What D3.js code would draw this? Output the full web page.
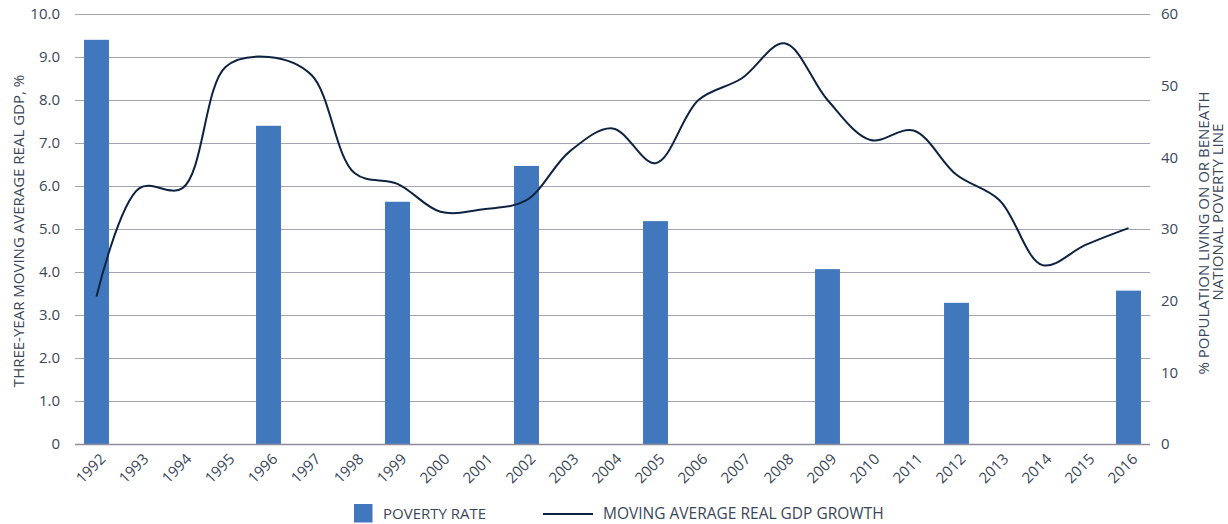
<!DOCTYPE html>
<html>
<head>
<meta charset="utf-8">
<script src="https://cdn.jsdelivr.net/npm/d3@7"></script>
<style>
  body { margin: 0; background: #fff; }
  text { font-family: "Open Sans", sans-serif; fill: #3b475a; }
</style>
</head>
<body>
<script>
// years along the bottom
const years = d3.range(1992, 2017).map(String);
// poverty rate, % of population (right axis) - only survey years
const povertyYears = ["1992","1996","1999","2002","2005","2009","2012","2016"];
const povertyRate  = [56.4, 44.4, 33.8, 38.8, 31.1, 24.4, 19.7, 21.4];
// three-year moving average real GDP growth, % (left axis)
const gdpGrowth = [3.43, 5.95, 5.95, 8.77, 9.0, 8.58, 6.3, 6.05, 5.4, 5.46, 5.67, 6.8, 7.34,
                   6.53, 8.0, 8.5, 9.32, 8.0, 7.07, 7.29, 6.26, 5.67, 4.16, 4.63, 5.02];
const leftTicks  = [0, 1, 2, 3, 4, 5, 6, 7, 8, 9, 10];
const rightTicks = [0, 10, 20, 30, 40, 50, 60];

const W = 1228, H = 524;
const svg = d3.select("body").append("svg")
  .attr("width", W).attr("height", H);

const x = d3.scaleBand().domain(years).range([75, 1150]).paddingInner(0.42).paddingOuter(0.21);
const yL = d3.scaleLinear().domain([0, 10]).range([444, 14]);
const yR = d3.scaleLinear().domain([0, 60]).range([444, 14]);

// gridlines (left scale)
svg.append("g")
  .selectAll("line")
  .data(leftTicks.filter(d => d > 0))
  .enter().append("line")
  .attr("x1", 75).attr("x2", 1150)
  .attr("y1", d => Math.round(yL(d)) + 0.5).attr("y2", d => Math.round(yL(d)) + 0.5)
  .attr("stroke", "#a2a2b0").attr("stroke-width", 1.2);

// bars
svg.append("g")
  .selectAll("rect")
  .data(povertyYears.map((y, i) => ({ year: y, v: povertyRate[i] })))
  .enter().append("rect")
  .attr("x", d => x(d.year))
  .attr("width", x.bandwidth())
  .attr("y", d => yR(d.v))
  .attr("height", d => yR(0) - yR(d.v))
  .attr("fill", "#4177bd");

// baseline
svg.append("line")
  .attr("x1", 75).attr("x2", 1150).attr("y1", 444.5).attr("y2", 444.5)
  .attr("stroke", "#8d8d9c").attr("stroke-width", 1.3);

// smoothed gdp line
const line = d3.line()
  .x((d, i) => x(years[i]) + x.bandwidth() / 2)
  .y(d => yL(d))
  .curve(d3.curveCatmullRom.alpha(0.5));

svg.append("path")
  .datum(gdpGrowth)
  .attr("fill", "none")
  .attr("stroke", "#0e2341")
  .attr("stroke-width", 2)
  .attr("stroke-linejoin", "round")
  .attr("d", line);

// left axis labels
const leftAxis = svg.append("g")
  .attr("transform", "translate(60,0)")
  .call(d3.axisLeft(yL).tickValues(leftTicks).tickSize(0).tickPadding(0)
    .tickFormat(d => d === 0 ? "0" : d3.format(".1f")(d)));
leftAxis.select(".domain").remove();
leftAxis.selectAll("text").style("font-size", "15px").attr("font-family", null).attr("fill", "#3b475a");

// right axis labels
const rightAxis = svg.append("g")
  .attr("transform", "translate(1161,0)")
  .call(d3.axisRight(yR).tickValues(rightTicks).tickSize(0).tickPadding(0));
rightAxis.select(".domain").remove();
rightAxis.selectAll("text").style("font-size", "15px").attr("font-family", null).attr("fill", "#3b475a");

// bottom axis labels
const bottomAxis = svg.append("g")
  .attr("transform", "translate(0,444)")
  .call(d3.axisBottom(x).tickSize(0).tickPadding(0));
bottomAxis.select(".domain").remove();
bottomAxis.selectAll("text")
  .style("font-size", "15px").attr("font-family", null).attr("fill", "#3b475a")
  .attr("text-anchor", "end")
  .attr("dy", null).attr("y", 0)
  .attr("transform", "translate(10,16) rotate(-45)");

// axis titles
svg.append("text")
  .attr("transform", "translate(24,231) rotate(-90)")
  .attr("text-anchor", "middle")
  .style("font-size", "15px")
  .text("THREE-YEAR MOVING AVERAGE REAL GDP, %");

svg.append("text")
  .attr("transform", "translate(1209,233) rotate(-90)")
  .attr("text-anchor", "middle")
  .style("font-size", "15px")
  .text("% POPULATION LIVING ON OR BENEATH");
svg.append("text")
  .attr("transform", "translate(1223,212) rotate(-90)")
  .attr("text-anchor", "middle")
  .style("font-size", "15px")
  .text("NATIONAL POVERTY LINE");

// legend
const legend = svg.append("g");
legend.append("rect")
  .attr("x", 354).attr("y", 504).attr("width", 18.5).attr("height", 18.5)
  .attr("fill", "#4177bd");
legend.append("text")
  .attr("x", 383).attr("y", 519)
  .style("font-size", "15px")
  .text("POVERTY RATE");
legend.append("line")
  .attr("x1", 543).attr("x2", 593).attr("y1", 514).attr("y2", 514)
  .attr("stroke", "#0e2341").attr("stroke-width", 2);
legend.append("text")
  .attr("x", 603).attr("y", 519)
  .style("font-size", "15.5px")
  .text("MOVING AVERAGE REAL GDP GROWTH");
</script>
</body>
</html>
